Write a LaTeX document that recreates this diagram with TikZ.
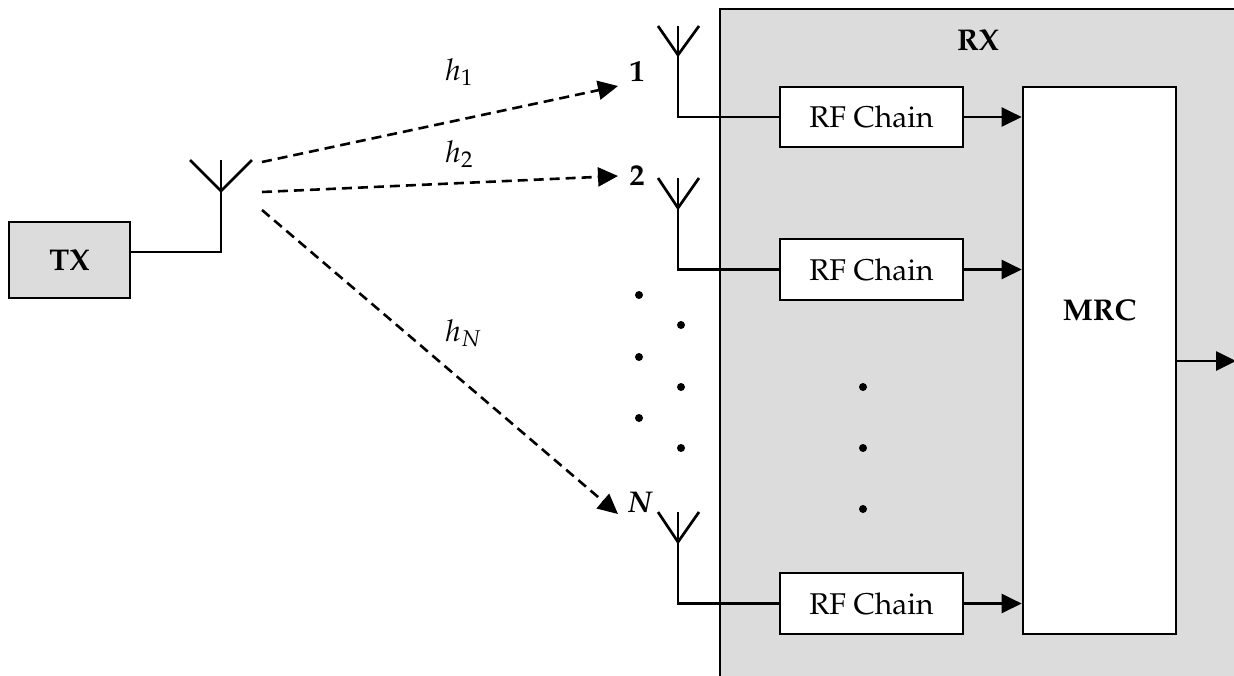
\documentclass[tikz,border=0pt]{standalone}
\usepackage[T1]{fontenc}
\usepackage{mathpazo}
\usepackage{bm}
\usetikzlibrary{arrows.meta,calc}
\definecolor{boxgray}{HTML}{DCDCDC}
\tikzset{
  line/.style={line width=2.7pt},
  blockbox/.style={draw,line width=2.7pt,fill=white,inner sep=0pt,font=\fontsize{30}{36}\selectfont},
  lbl/.style={inner sep=0pt,font=\fontsize{30}{36}\selectfont},
  boldlbl/.style={inner sep=0pt,font=\fontsize{30}{36}\selectfont\bfseries},
  tip/.style={-{Triangle[length=20pt,width=19pt]}},
  link/.style={line width=2.6pt,dash pattern=on 10pt off 6pt},
  dotmark/.style={circle,fill=black,inner sep=0pt,minimum size=8pt},
}
\begin{document}
\begin{tikzpicture}[x=1pt,y=-1pt]
\useasboundingbox (0,0) rectangle (1234,675);
\clip (0,0) rectangle (1234,675);
% RX enclosure
\draw[line,fill=boxgray] (720,9) rectangle (1260,700);
\node[boldlbl] (rx) at (978,40) {RX};
% TX
\node[blockbox,fill=boxgray,minimum width=121pt,minimum height=76pt,font=\fontsize{30}{36}\selectfont\bfseries] (tx) at (69.5,260) {TX};
% TX antenna
\coordinate (tv) at (221,191);
\coordinate (tfoot) at (221,252);
\coordinate (ttop) at (221,160);
\coordinate (tl) at (190,160);
\coordinate (tr) at (252,160);
\draw[line] (tx.east |- tfoot) -- (tfoot) -- (ttop);
\draw[line] (tl) -- (tv) -- (tr);
% RF chains and MRC
\node[blockbox,minimum width=183pt,minimum height=60pt] (rf1) at (871.5,117) {RF Chain};
\node[blockbox,minimum width=183pt,minimum height=61pt] (rf2) at (871.5,269.5) {RF Chain};
\node[blockbox,minimum width=183pt,minimum height=61pt] (rfn) at (871.5,603.5) {RF Chain};
\node[blockbox,minimum width=153pt,minimum height=547pt] (mrc) at (1099.5,360.5) {};
\node[boldlbl] (mrcl) at (1099.5,310) {MRC};
% RX antennas
\foreach \n/\t/\v/\b/\r in {a1/26/55/117/rf1, a2/178/208/269.5/rf2, an/512/542/603.5/rfn}{
  \coordinate (\n v) at (678,\v);
  \coordinate (\n t) at (678,\t);
  \coordinate (\n l) at (658,\t);
  \coordinate (\n r) at (699,\t);
  \coordinate (\n b) at (678,\b);
  \draw[line] (\n t) -- (\n b) -- (\r.west);
  \draw[line] (\n l) -- (\n v) -- (\n r);
}
% arrows into MRC
\draw[line,tip] (rf1.east) -- (mrc.west |- rf1.east);
\draw[line,tip] (rf2.east) -- (mrc.west |- rf2.east);
\draw[line,tip] (rfn.east) -- (mrc.west |- rfn.east);
\coordinate (out) at (1236,361);
\draw[line,tip] (mrc.east |- out) -- (out);
% channel links
\coordinate (s1) at (262,162);
\coordinate (s2) at (262,192);
\coordinate (s3) at (262,210);
\coordinate (e1) at (618,86);
\coordinate (e2) at (618,176);
\coordinate (e3) at (618,514);
\draw[link,tip] (s1) -- (e1);
\draw[link,tip] (s2) -- (e2);
\draw[link,tip] (s3) -- (e3);
\node[lbl,anchor=west] (h1) at (445,72) {$h_1$};
\node[lbl,anchor=west] (h2) at (445,154) {$h_2$};
\node[lbl,anchor=west] (hn) at (445,333) {$h_N$};
\node[boldlbl] (n1) at (637,72) {1};
\node[boldlbl] (n2) at (637,176) {2};
\node[lbl] (nn) at (640,502) {$\bm{N}$};
% dots
\foreach \x/\y [count=\i] in {639/295, 681/325, 639/357, 681/387, 639/418, 681/448, 863/387, 863/448, 863/509}{
  \node[dotmark] (d\i) at (\x,\y) {};
}
\end{tikzpicture}
\end{document}
